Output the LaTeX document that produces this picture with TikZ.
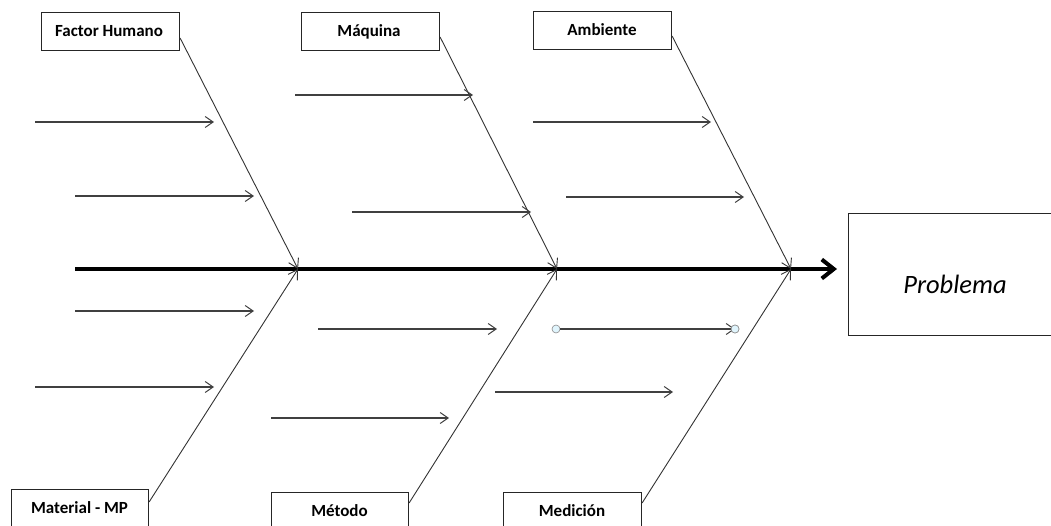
\documentclass[tikz,border=0pt]{standalone}
\usepackage{fontspec}
\setmainfont{Carlito}
\usetikzlibrary{arrows.meta,calc}

\tikzset{
  cause/.style={draw=black!85, line width=1.1pt, fill=white, minimum width=138pt,
    minimum height=38pt, inner sep=0pt, anchor=north west},
  causetxt/.style={anchor=base, inner sep=0pt, font=\fontsize{17}{19}\selectfont\bfseries},
  bone/.style={draw=black!80, line width=0.9pt,
    -{Straight Barb[length=9pt,width=11pt,line width=0.9pt]}},
  twig/.style={draw=black!75, line width=1.1pt,
    -{Straight Barb[length=8pt,width=11pt,line width=1pt]}},
  spine/.style={draw=black, line width=4.5pt,
    -{Straight Barb[length=12pt,width=19pt,line width=4pt]}},
  handle/.style={circle, draw=black!45, fill=cyan!12, line width=0.6pt,
    minimum size=8pt, inner sep=0pt}
}

\begin{document}
\begin{tikzpicture}[x=1pt,y=-1pt]
\useasboundingbox (0,0) rectangle (1051,526);

% effect
\node[draw=black!85, line width=1.1pt, minimum width=208pt, minimum height=122pt,
  inner sep=0pt, anchor=north west] (prob) at (848,213) {};
\node[font=\fontsize{26.5}{30}\selectfont\itshape, anchor=base] (probtxt) at (955,294) {Problema};

% main spine
\coordinate (tail) at (75,269);
\coordinate (j1) at (298,269);
\coordinate (j2) at (557,269);
\coordinate (j3) at (791,269);
\coordinate (head) at (837,269);
\draw[spine] (tail) -- (head);

% cause boxes, top row
\node[cause] (fh)  at (41,12) {};
\node[causetxt] at (109,37) {Factor Humano};
\node[cause] (maq) at (301,12) {};
\node[causetxt] at (369,37) {Máquina};
\node[cause] (amb) at (533,11) {};
\node[causetxt] at (602,36) {Ambiente};

% cause boxes, bottom row
\node[cause, minimum width=137pt, minimum height=40pt] (mat) at (11,489) {};
\node[causetxt] at (79.5,513) {Material - MP};
\node[cause, minimum width=137pt, minimum height=40pt] (met) at (271,492) {};
\node[causetxt] at (339.5,516) {Método};
\node[cause, minimum width=138pt, minimum height=40pt] (med) at (503,492) {};
\node[causetxt] at (572,516) {Medición};

% main bones
\draw[bone] ($(fh.north east)+(0,26)$) -- (j1);
\draw[bone] ($(maq.north east)+(0,25)$) -- (j2);
\draw[bone] ($(amb.north east)+(0,25)$) -- (j3);
\draw[bone] ($(mat.north east)+(0,13)$) -- (j1);
\draw[bone] ($(met.north east)+(0,11)$) -- (j2);
\draw[bone] ($(med.north east)+(0,11)$) -- (j3);

% sub-causes, left
\coordinate (a1) at (35,122);  \coordinate (b1) at (214,122);
\coordinate (a2) at (75,196);  \coordinate (b2) at (254,196);
\coordinate (a3) at (75,311);  \coordinate (b3) at (254,311);
\coordinate (a4) at (35,387);  \coordinate (b4) at (214,387);
% sub-causes, middle
\coordinate (a5) at (295,95);  \coordinate (b5) at (473,95);
\coordinate (a6) at (352,212); \coordinate (b6) at (531,212);
\coordinate (a7) at (318,329); \coordinate (b7) at (497,329);
\coordinate (a8) at (271,418); \coordinate (b8) at (449,418);
% sub-causes, right
\coordinate (a9)  at (533,122); \coordinate (b9)  at (711,122);
\coordinate (a10) at (566,197); \coordinate (b10) at (744,197);
\coordinate (a12) at (495,392); \coordinate (b12) at (673,392);

\foreach \i in {1,...,10,12} \draw[twig] (a\i) -- (b\i);

% selected sub-cause with handles
\node[handle] (h1) at (556,329) {};
\node[handle] (h2) at (735,329) {};
\draw[twig] (h1) -- (h2.center);
\node[handle] at (h2) {};
\end{tikzpicture}
\end{document}
